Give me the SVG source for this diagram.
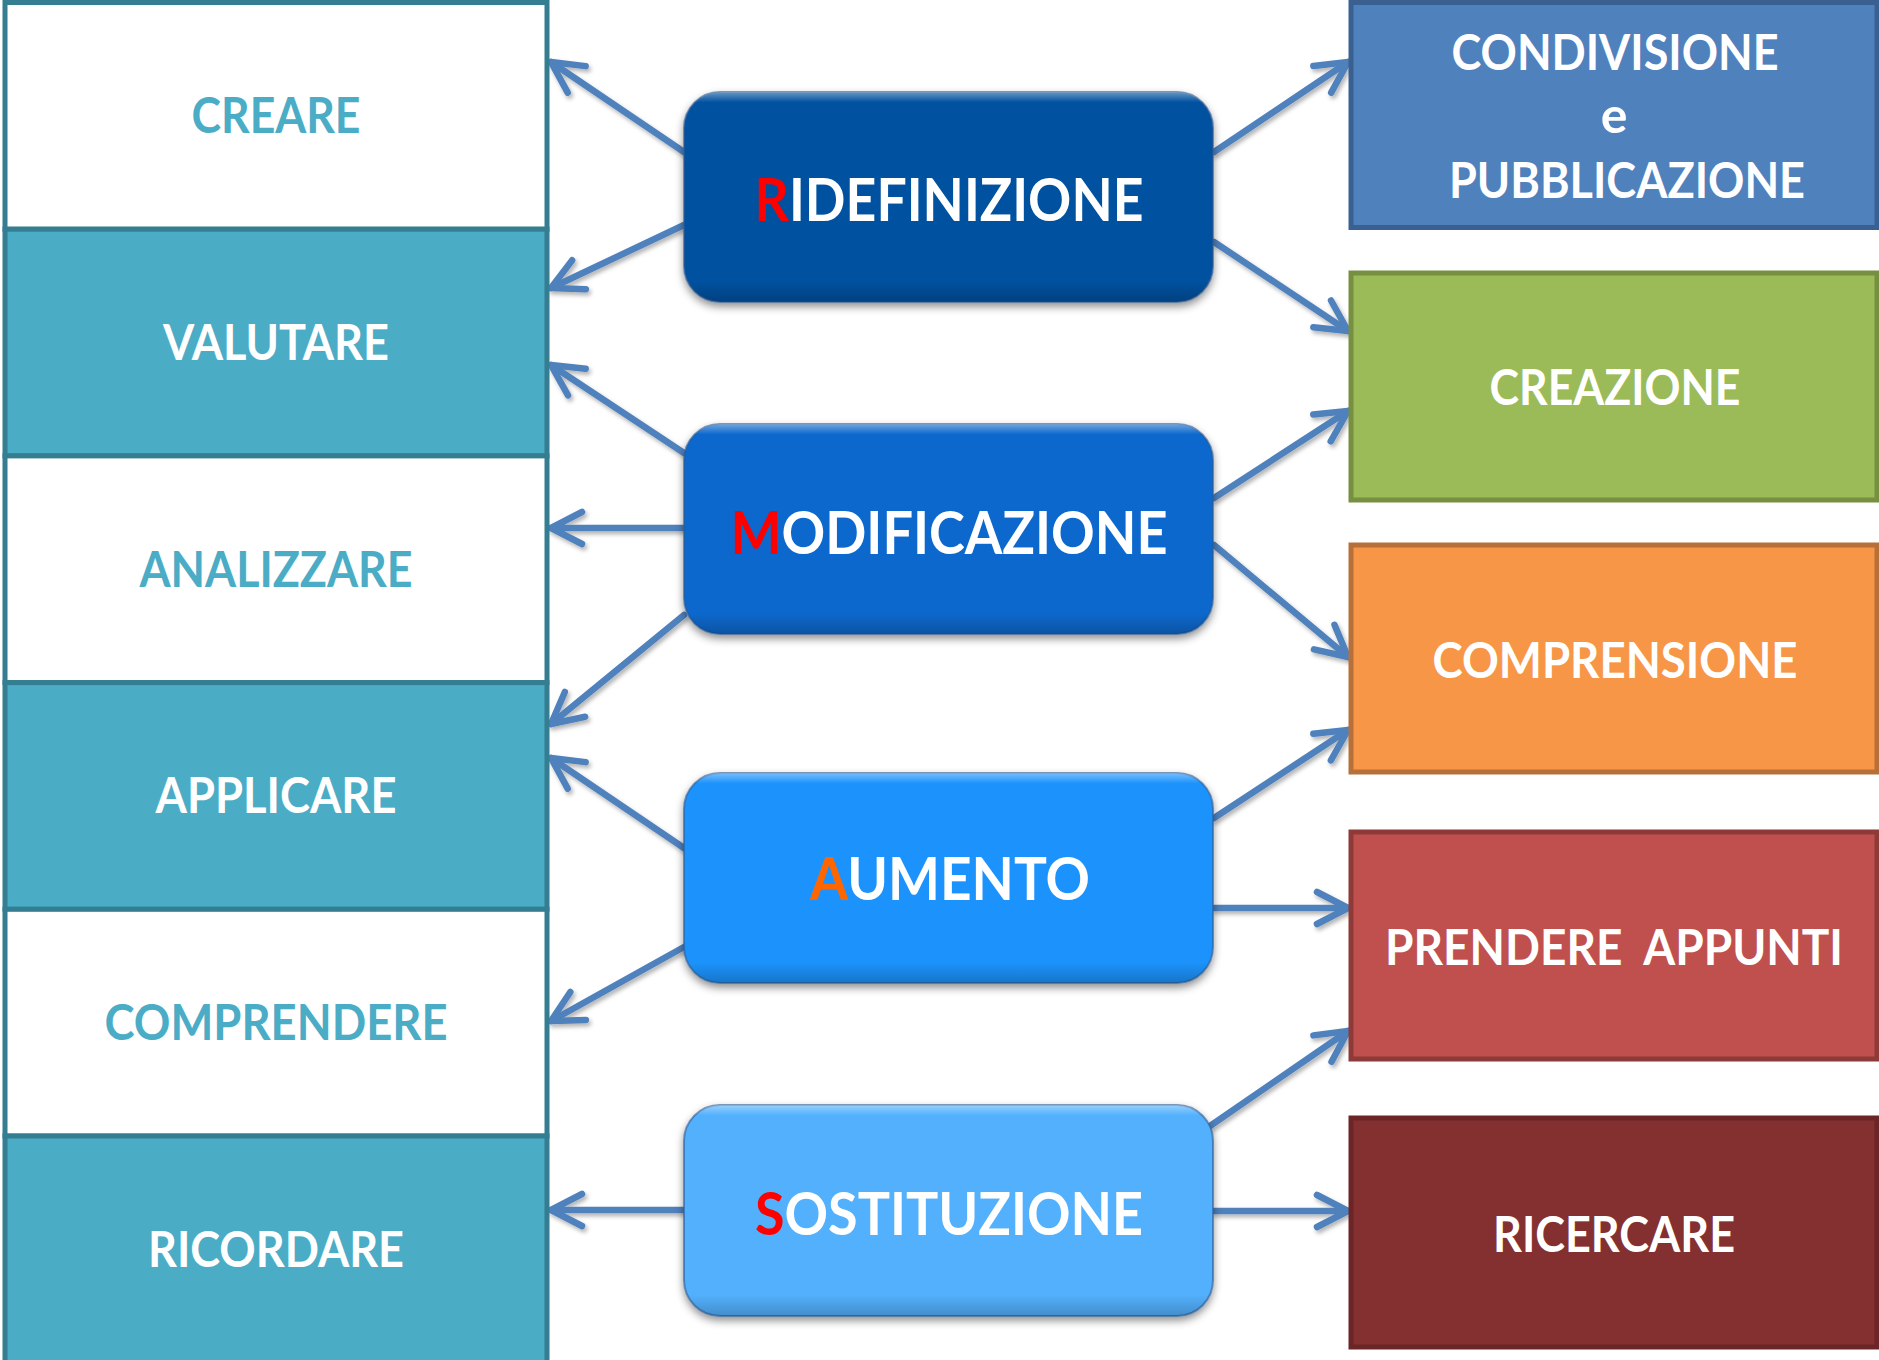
<svg xmlns="http://www.w3.org/2000/svg" width="1879" height="1360" viewBox="0 0 1879 1360">
<defs>
<style>
.lrow{stroke:#357d91;stroke-width:5}
.lw{fill:#ffffff}
.lt{fill:#4bacc6}
.ltxt{font-family:Lato,"Open Sans","Liberation Sans",sans-serif;font-weight:bold;font-size:50px;text-anchor:middle}
.rtxt{font-family:Lato,"Open Sans","Liberation Sans",sans-serif;font-weight:bold;font-size:50px;text-anchor:middle;fill:#ffffff;white-space:pre}
.mtxt{font-family:Lato,"Open Sans","Liberation Sans",sans-serif;font-weight:bold;font-size:60px;text-anchor:middle;fill:#ffffff}
.mbox{stroke:#2d5c92;stroke-width:2;stroke-opacity:0.6}
.conn{stroke:#4f81bd;stroke-width:6.5;fill:none;stroke-linecap:round;marker-end:url(#arr)}
</style>
<marker id="arr" markerUnits="userSpaceOnUse" markerWidth="48" markerHeight="48" viewBox="-40 -24 48 48" refX="0" refY="0" orient="auto">
<path d="M-31,-16 L0,0 L-31,16" fill="none" stroke="#4f81bd" stroke-width="6.5" stroke-linecap="round" stroke-linejoin="round"/>
</marker>
<filter id="sh" x="-10%" y="-10%" width="120%" height="130%">
<feDropShadow dx="0" dy="4" stdDeviation="4" flood-color="#000" flood-opacity="0.45"/>
</filter>
<filter id="ash" x="-20%" y="-20%" width="140%" height="140%">
<feDropShadow dx="2" dy="3" stdDeviation="2" flood-color="#000" flood-opacity="0.3"/>
</filter>
<linearGradient id="gloss" x1="0" y1="0" x2="0" y2="1">
<stop offset="0" stop-color="#ffffff" stop-opacity="0.4"/>
<stop offset="0.05" stop-color="#ffffff" stop-opacity="0"/>
<stop offset="0.9" stop-color="#000000" stop-opacity="0"/>
<stop offset="1" stop-color="#000000" stop-opacity="0.2"/>
</linearGradient>
</defs>
<rect width="1879" height="1360" fill="#ffffff"/>

<g id="connectors" filter="url(#ash)">
<line class="conn" x1="684" y1="152" x2="551" y2="62"/>
<line class="conn" x1="684" y1="225" x2="551" y2="288"/>
<line class="conn" x1="684" y1="453" x2="551" y2="365"/>
<line class="conn" x1="684" y1="528" x2="551" y2="528"/>
<line class="conn" x1="684" y1="615" x2="551" y2="724"/>
<line class="conn" x1="684" y1="848" x2="551" y2="758"/>
<line class="conn" x1="684" y1="947" x2="551" y2="1021"/>
<line class="conn" x1="684" y1="1210" x2="551" y2="1210"/>
<line class="conn" x1="1214" y1="152" x2="1348" y2="62"/>
<line class="conn" x1="1214" y1="242" x2="1348" y2="331"/>
<line class="conn" x1="1214" y1="498" x2="1348" y2="411"/>
<line class="conn" x1="1214" y1="545" x2="1348" y2="657"/>
<line class="conn" x1="1214" y1="818" x2="1348" y2="730"/>
<line class="conn" x1="1214" y1="908" x2="1348" y2="908"/>
<line class="conn" x1="1210" y1="1126" x2="1348" y2="1031"/>
<line class="conn" x1="1214" y1="1211" x2="1348" y2="1211"/>
</g>

<g id="creare"><rect class="lrow lw" x="5" y="2.5" width="542" height="226.7"/><text class="ltxt" x="276" y="133" fill="#4bacc6" textLength="169" lengthAdjust="spacingAndGlyphs">CREARE</text></g>
<g id="valutare"><rect class="lrow lt" x="5" y="229.2" width="542" height="226.7"/><text class="ltxt" x="276" y="360" fill="#ffffff" textLength="226" lengthAdjust="spacingAndGlyphs">VALUTARE</text></g>
<g id="analizzare"><rect class="lrow lw" x="5" y="455.9" width="542" height="226.7"/><text class="ltxt" x="276" y="587" fill="#4bacc6" textLength="273" lengthAdjust="spacingAndGlyphs">ANALIZZARE</text></g>
<g id="applicare"><rect class="lrow lt" x="5" y="682.6" width="542" height="226.7"/><text class="ltxt" x="276" y="813" fill="#ffffff" textLength="241" lengthAdjust="spacingAndGlyphs">APPLICARE</text></g>
<g id="comprendere"><rect class="lrow lw" x="5" y="909.3" width="542" height="226.7"/><text class="ltxt" x="276" y="1040" fill="#4bacc6" textLength="343" lengthAdjust="spacingAndGlyphs">COMPRENDERE</text></g>
<g id="ricordare"><rect class="lrow lt" x="5" y="1136" width="542" height="226.7"/><text class="ltxt" x="276" y="1267" fill="#ffffff" textLength="256" lengthAdjust="spacingAndGlyphs">RICORDARE</text></g>

<g id="ridefinizione"><rect class="mbox" x="684" y="92" width="529" height="210" rx="36" fill="#06519f" filter="url(#sh)"/><rect x="684" y="92" width="529" height="210" rx="36" fill="url(#gloss)"/><text class="mtxt" x="949" y="221" textLength="389" lengthAdjust="spacingAndGlyphs"><tspan fill="#ff0000">R</tspan>IDEFINIZIONE</text></g>
<g id="modificazione"><rect class="mbox" x="684" y="424" width="529" height="210" rx="36" fill="#0767cd" filter="url(#sh)"/><rect x="684" y="424" width="529" height="210" rx="36" fill="url(#gloss)"/><text class="mtxt" x="949" y="554" textLength="437" lengthAdjust="spacingAndGlyphs"><tspan fill="#ff0000">M</tspan>ODIFICAZIONE</text></g>
<g id="aumento"><rect class="mbox" x="684" y="773" width="529" height="210" rx="36" fill="#1b93fc" filter="url(#sh)"/><rect x="684" y="773" width="529" height="210" rx="36" fill="url(#gloss)"/><text class="mtxt" x="950" y="900" textLength="280" lengthAdjust="spacingAndGlyphs"><tspan fill="#ff6600">A</tspan>UMENTO</text></g>
<g id="sostituzione"><rect class="mbox" x="684" y="1105" width="529" height="211" rx="36" fill="#53b0fd" filter="url(#sh)"/><rect x="684" y="1105" width="529" height="211" rx="36" fill="url(#gloss)"/><text class="mtxt" x="949" y="1235" textLength="388" lengthAdjust="spacingAndGlyphs"><tspan fill="#ff0000">S</tspan>OSTITUZIONE</text></g>

<g id="condivisione"><rect x="1351" y="2.5" width="526" height="225" fill="#4f81bd" stroke="#3a6091" stroke-width="5"/><text class="rtxt" x="1615" y="70" textLength="327" lengthAdjust="spacingAndGlyphs">CONDIVISIONE</text><text class="rtxt" x="1614" y="133">e</text><text class="rtxt" x="1627" y="198" textLength="356" lengthAdjust="spacingAndGlyphs">PUBBLICAZIONE</text></g>
<g id="creazione"><rect x="1351" y="273" width="526" height="227" fill="#9bbb59" stroke="#768f40" stroke-width="5"/><text class="rtxt" x="1615" y="405" textLength="251" lengthAdjust="spacingAndGlyphs">CREAZIONE</text></g>
<g id="comprensione"><rect x="1351" y="545" width="526" height="227" fill="#f79646" stroke="#b8703a" stroke-width="5"/><text class="rtxt" x="1615" y="678" textLength="365" lengthAdjust="spacingAndGlyphs">COMPRENSIONE</text></g>
<g id="prendere-appunti"><rect x="1351" y="832" width="526" height="227" fill="#c0504d" stroke="#8e3a38" stroke-width="5"/><text class="rtxt" x="1614" y="965" textLength="458" lengthAdjust="spacingAndGlyphs">PRENDERE  APPUNTI</text></g>
<g id="ricercare"><rect x="1351" y="1118" width="526" height="229" fill="#843031" stroke="#6b2526" stroke-width="5"/><text class="rtxt" x="1614" y="1252" textLength="242" lengthAdjust="spacingAndGlyphs">RICERCARE</text></g>
</svg>
